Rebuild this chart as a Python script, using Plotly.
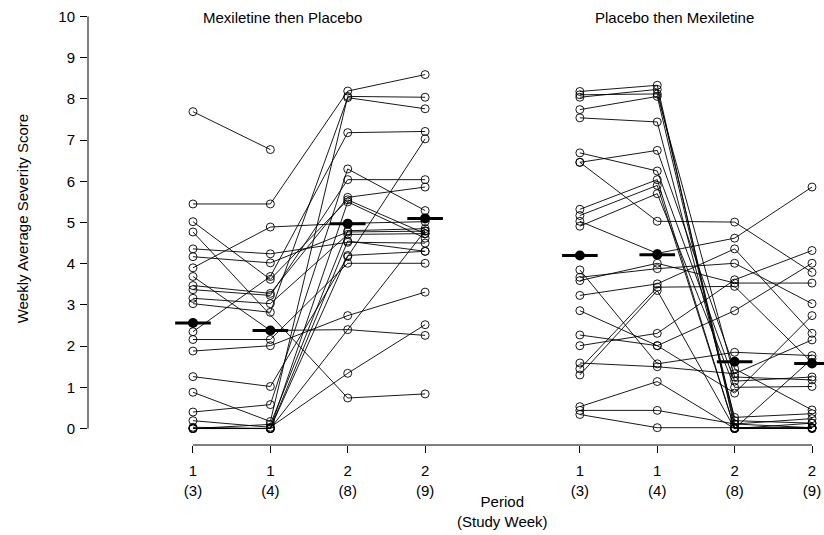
import plotly.graph_objects as go

# ---------------- data ----------------
tick_pos = [1, 2, 3, 4, 6, 7, 8, 9]
tick_text = ["1<br>(3)", "1<br>(4)", "2<br>(8)", "2<br>(9)",
             "1<br>(3)", "1<br>(4)", "2<br>(8)", "2<br>(9)"]
g1_pos = [1, 2, 3, 4]
g2_pos = [6, 7, 8, 9]

# Mexiletine then Placebo: one entry per subject, weeks 3, 4, 8, 9
g1_w3 = [7.69, 5.45, 5.02, 4.77, 4.36, 4.17, 3.90, 3.69, 3.47, 3.37, 3.16, 3.03,
         2.35, 2.16, 1.88, 1.26, 0.88, 0.40, 0.19, 0.03, 0.00, 0.00, 0.00, 0.00]
g1_w4 = [6.77, 5.45, 3.62, None, 4.24, 4.02, 4.89, 2.38, 3.28, 3.23, 3.03, 2.82,
         3.69, 2.16, 2.01, 1.02, 0.17, 0.58, 0.03, 0.00, 0.00, 0.10, 0.00, 0.00]
g1_w8 = [None, 8.19, 5.55, 0.74, 4.52, 4.77, 4.98, 2.40, 5.61, 6.04, 4.71, 8.03,
         7.18, 4.01, 2.74, 4.17, 8.06, 6.30, 1.34, 5.50, None, 4.80, 4.55, 4.20]
g1_w9 = [None, 8.59, 4.73, 0.84, 4.50, 4.79, 5.02, 2.26, 5.86, 6.04, 4.73, 7.76,
         7.21, 4.01, 3.31, 7.03, 8.04, 5.29, 2.52, 4.62, 4.80, 4.85, 4.30, 4.30]

# Placebo then Mexiletine
g2_w3 = [8.18, 8.04, 8.10, 7.74, 7.54, 6.69, 6.46, 6.46, 5.32, 5.17, 5.03, 4.91,
         3.85, 3.67, 3.59, 3.23, 2.86, 2.27, 2.01, 1.59, 1.45, 1.30, 0.53, 0.44, 0.34]
g2_w4 = [8.33, 8.23, 8.12, 8.06, 7.44, 6.25, 6.75, 5.03, 6.04, 5.90, 4.25, 5.70,
         1.57, 3.88, 4.01, 3.51, 2.01, 2.01, 2.31, 1.50, 3.43, 3.35, 1.14, 0.44, 0.02]
g2_w8 = [0.02, 0.19, 1.25, 0.11, 0.27, 1.15, 1.45, 5.01, 0.00, 0.00, 4.62, 1.00,
         1.85, 4.01, 3.53, 4.36, 2.86, 0.86, 3.61, 1.33, 3.45, 0.00, 0.00, 0.11, 0.02]
g2_w9 = [0.02, 0.13, 1.18, 0.24, 0.36, 1.25, 0.45, 3.79, 0.00, 1.69, 5.86, 1.02,
         1.77, 3.03, 3.53, 2.31, 4.01, 2.74, 4.32, 2.15, 1.60, 0.02, 0.13, 0.02, 0.00]

g1_mean = [2.56, 2.38, 4.97, 5.10]
g2_mean = [4.20, 4.22, 1.62, 1.58]

y_ticks = list(range(0, 11))

# ---------------- build ----------------
def segments(pos, cols):
    lx, ly, px, py = [], [], [], []
    for vals in zip(*cols):
        pts = [(p, v) for p, v in zip(pos, vals) if v is not None]
        for p, v in pts:
            px.append(p); py.append(v)
        if len(pts) > 1:
            for p, v in pts:
                lx.append(p); ly.append(v)
            lx.append(None); ly.append(None)
    return lx, ly, px, py

fig = go.Figure()
half = 0.23
for pos, cols, means in [(g1_pos, [g1_w3, g1_w4, g1_w8, g1_w9], g1_mean),
                         (g2_pos, [g2_w3, g2_w4, g2_w8, g2_w9], g2_mean)]:
    lx, ly, px, py = segments(pos, cols)
    fig.add_trace(go.Scatter(x=lx, y=ly, mode="lines",
                             line=dict(color="black", width=0.9),
                             hoverinfo="skip", showlegend=False))
    fig.add_trace(go.Scatter(x=px, y=py, mode="markers",
                             marker=dict(symbol="circle-open", size=8,
                                         color="black", line=dict(width=0.9)),
                             showlegend=False))
    bx, by = [], []
    for p, m in zip(pos, means):
        bx += [p - half, p + half, None]
        by += [m, m, None]
    fig.add_trace(go.Scatter(x=bx, y=by, mode="lines",
                             line=dict(color="black", width=3),
                             hoverinfo="skip", showlegend=False))
    fig.add_trace(go.Scatter(x=pos, y=means, mode="markers",
                             marker=dict(symbol="circle", size=10, color="black"),
                             showlegend=False))

font = dict(family="Liberation Sans, Arial, sans-serif", size=15, color="black")

fig.update_layout(
    width=824, height=535,
    margin=dict(l=88, r=0, t=0, b=90, autoexpand=False),
    paper_bgcolor="white", plot_bgcolor="white",
    font=font,
    xaxis=dict(range=[-0.3566, 9.155], tickvals=tick_pos, ticktext=tick_text,
               ticks="outside", ticklen=7, tickcolor="black", tickwidth=1,
               ticklabelstandoff=5,
               showgrid=False, zeroline=False, showline=False,
               tickfont=font, automargin=False),
    yaxis=dict(range=[-0.4, 10.4], tickvals=y_ticks, ticks="outside",
               ticklen=7, tickcolor="black", tickwidth=1,
               ticklabelstandoff=2,
               showgrid=False, zeroline=False, showline=False,
               tickfont=font, automargin=False),
    shapes=[
        dict(type="line", xref="paper", yref="y", x0=0, x1=0, y0=0, y1=10,
             line=dict(color="black", width=1)),
        dict(type="line", xref="x", yref="paper", x0=1, x1=9, y0=0, y1=0,
             line=dict(color="black", width=1)),
    ],
    annotations=[
        dict(text="Mexiletine then Placebo", x=2.16, y=9.98, xref="x", yref="y",
             showarrow=False, font=font, xanchor="center", yanchor="middle"),
        dict(text="Placebo then Mexiletine", x=7.22, y=9.98, xref="x", yref="y",
             showarrow=False, font=font, xanchor="center", yanchor="middle"),
        dict(text="Weekly Average Severity Score", textangle=-90,
             x=-0.0897, y=5.1, xref="paper", yref="y", showarrow=False,
             font=font, xanchor="center", yanchor="middle"),
        dict(text="Period<br>(Study Week)", x=5, y=-0.15, xref="x", yref="paper",
             showarrow=False, font=font, xanchor="center", yanchor="middle"),
    ],
)

fig.write_html("out.html", config={"displayModeBar": False},
               post_script="document.body.style.margin='0';")
